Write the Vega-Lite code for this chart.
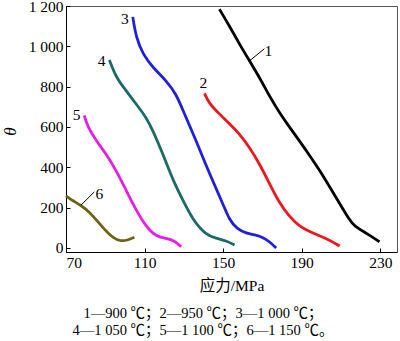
{
  "$schema": "https://vega.github.io/schema/vega-lite/v6.json",
  "width": 331,
  "height": 246,
  "autosize": {"type": "none"},
  "padding": {"left": 66, "top": 6, "right": 3, "bottom": 89},
  "background": "white",
  "config": {
    "view": {"stroke": "#555", "strokeWidth": 1},
    "font": "Liberation Serif, Noto Sans CJK SC",
    "axis": {"grid": false, "domainColor": "#000", "tickColor": "#000", "labelColor": "#000", "titleColor": "#000", "labelFont": "Liberation Serif", "labelFontSize": 15.5, "tickSize": -4, "labelPadding": 7, "titleFontWeight": "normal"}
  },
  "title": {
    "text": ["1—900 ℃；2—950 ℃；3—1 000 ℃；", "4—1 050 ℃；5—1 100 ℃；6—1 150 ℃。"],
    "orient": "bottom",
    "anchor": "middle",
    "font": "Liberation Serif, Noto Sans CJK SC",
    "fontSize": 14.5,
    "fontWeight": "normal",
    "color": "#000",
    "lineHeight": 17,
    "offset": 13,
    "dx": -28.5
  },
  "datasets": {
    "curves": [
      {"series": "1", "stress": 148.1, "theta": 1184},
      {"series": "1", "stress": 153.2, "theta": 1101},
      {"series": "1", "stress": 158.3, "theta": 1011},
      {"series": "1", "stress": 163.4, "theta": 928},
      {"series": "1", "stress": 168.5, "theta": 846},
      {"series": "1", "stress": 173.6, "theta": 752},
      {"series": "1", "stress": 178.7, "theta": 670},
      {"series": "1", "stress": 183.8, "theta": 599},
      {"series": "1", "stress": 188.9, "theta": 530},
      {"series": "1", "stress": 194.0, "theta": 459},
      {"series": "1", "stress": 199.1, "theta": 385},
      {"series": "1", "stress": 204.2, "theta": 303},
      {"series": "1", "stress": 209.3, "theta": 221},
      {"series": "1", "stress": 214.4, "theta": 138},
      {"series": "1", "stress": 216.6, "theta": 110},
      {"series": "1", "stress": 222.9, "theta": 73},
      {"series": "1", "stress": 229.6, "theta": 31},
      {"series": "2", "stress": 140.5, "theta": 767},
      {"series": "2", "stress": 143.0, "theta": 714},
      {"series": "2", "stress": 148.1, "theta": 665},
      {"series": "2", "stress": 153.2, "theta": 616},
      {"series": "2", "stress": 158.3, "theta": 566},
      {"series": "2", "stress": 163.4, "theta": 500},
      {"series": "2", "stress": 168.5, "theta": 418},
      {"series": "2", "stress": 173.6, "theta": 319},
      {"series": "2", "stress": 178.7, "theta": 221},
      {"series": "2", "stress": 183.8, "theta": 155},
      {"series": "2", "stress": 188.9, "theta": 105},
      {"series": "2", "stress": 195.7, "theta": 73},
      {"series": "2", "stress": 202.5, "theta": 48},
      {"series": "2", "stress": 209.3, "theta": 10},
      {"series": "3", "stress": 104.0, "theta": 1146},
      {"series": "3", "stress": 105.7, "theta": 1043},
      {"series": "3", "stress": 109.1, "theta": 961},
      {"series": "3", "stress": 114.2, "theta": 895},
      {"series": "3", "stress": 121.0, "theta": 830},
      {"series": "3", "stress": 126.1, "theta": 764},
      {"series": "3", "stress": 130.3, "theta": 665},
      {"series": "3", "stress": 136.2, "theta": 533},
      {"series": "3", "stress": 143.0, "theta": 369},
      {"series": "3", "stress": 149.8, "theta": 221},
      {"series": "3", "stress": 153.2, "theta": 138},
      {"series": "3", "stress": 157.0, "theta": 95},
      {"series": "3", "stress": 161.7, "theta": 73},
      {"series": "3", "stress": 166.8, "theta": 64},
      {"series": "3", "stress": 170.2, "theta": 53},
      {"series": "3", "stress": 173.6, "theta": 31},
      {"series": "3", "stress": 177.0, "theta": 0},
      {"series": "4", "stress": 92.1, "theta": 932},
      {"series": "4", "stress": 95.5, "theta": 846},
      {"series": "4", "stress": 100.6, "theta": 780},
      {"series": "4", "stress": 105.7, "theta": 714},
      {"series": "4", "stress": 110.8, "theta": 648},
      {"series": "4", "stress": 114.2, "theta": 583},
      {"series": "4", "stress": 119.3, "theta": 467},
      {"series": "4", "stress": 124.4, "theta": 336},
      {"series": "4", "stress": 129.5, "theta": 237},
      {"series": "4", "stress": 134.6, "theta": 138},
      {"series": "4", "stress": 141.3, "theta": 64},
      {"series": "4", "stress": 146.4, "theta": 48},
      {"series": "4", "stress": 151.5, "theta": 36},
      {"series": "4", "stress": 155.8, "theta": 15},
      {"series": "5", "stress": 79.3, "theta": 657},
      {"series": "5", "stress": 81.1, "theta": 599},
      {"series": "5", "stress": 85.3, "theta": 533},
      {"series": "5", "stress": 90.4, "theta": 467},
      {"series": "5", "stress": 95.5, "theta": 385},
      {"series": "5", "stress": 100.6, "theta": 286},
      {"series": "5", "stress": 105.7, "theta": 188},
      {"series": "5", "stress": 110.8, "theta": 105},
      {"series": "5", "stress": 115.9, "theta": 56},
      {"series": "5", "stress": 121.0, "theta": 48},
      {"series": "5", "stress": 125.2, "theta": 36},
      {"series": "5", "stress": 128.6, "theta": 6},
      {"series": "6", "stress": 70.0, "theta": 258},
      {"series": "6", "stress": 72.9, "theta": 237},
      {"series": "6", "stress": 77.6, "theta": 212},
      {"series": "6", "stress": 81.9, "theta": 179},
      {"series": "6", "stress": 87.0, "theta": 122},
      {"series": "6", "stress": 92.1, "theta": 64},
      {"series": "6", "stress": 97.2, "theta": 32},
      {"series": "6", "stress": 101.4, "theta": 38},
      {"series": "6", "stress": 104.8, "theta": 53}
    ],
    "labels": [
      {"label": "1", "stress": 173.0, "theta": 978},
      {"label": "2", "stress": 139.9, "theta": 816},
      {"label": "3", "stress": 100.0, "theta": 1134},
      {"label": "4", "stress": 88.1, "theta": 926},
      {"label": "5", "stress": 75.4, "theta": 658},
      {"label": "6", "stress": 87.0, "theta": 270}
    ],
    "leaders": [
      {"stress": 163.4, "theta": 928, "stress2": 171.0, "theta2": 988},
      {"stress": 77.6, "theta": 212, "stress2": 84.4, "theta2": 278}
    ]
  },
  "layer": [
    {
      "data": {"name": "curves"},
      "mark": {"type": "line", "strokeWidth": 2.8, "interpolate": "basis"},
      "encoding": {
        "x": {"field": "stress", "type": "quantitative", "scale": {"domain": [70, 238.5], "nice": false, "zero": false},
              "axis": {"values": [70, 110, 150, 190, 230], "title": "应力/MPa", "titleFont": "Liberation Serif, Noto Sans CJK SC", "titleFontSize": 15.5, "titleY": 33, "titleBaseline": "middle"}},
        "y": {"field": "theta", "type": "quantitative", "scale": {"domain": [-20, 1200], "nice": false, "zero": false},
              "axis": {"values": [0, 200, 400, 600, 800, 1000, 1200], "labelExpr": "replace(format(datum.value, ','), ',', ' ')", "title": "θ", "titleFont": "Liberation Serif", "titleFontStyle": "italic", "titleFontSize": 17, "titleX": -56, "titleY": 125, "titleAngle": -90, "titleAlign": "center", "titleBaseline": "middle"}},
        "color": {"field": "series", "type": "nominal", "legend": null,
                  "scale": {"domain": ["1", "2", "3", "4", "5", "6"], "range": ["#000000", "#e8191e", "#1f1fd8", "#1b6a66", "#e51ee5", "#6a6414"]}}
      }
    },
    {
      "data": {"name": "leaders"},
      "mark": {"type": "rule", "color": "#000", "strokeWidth": 1},
      "encoding": {
        "x": {"field": "stress", "type": "quantitative"},
        "y": {"field": "theta", "type": "quantitative"},
        "x2": {"field": "stress2"},
        "y2": {"field": "theta2"}
      }
    },
    {
      "data": {"name": "labels"},
      "mark": {"type": "text", "font": "Liberation Serif", "fontSize": 15.5, "color": "#000", "align": "center", "baseline": "middle"},
      "encoding": {
        "x": {"field": "stress", "type": "quantitative"},
        "y": {"field": "theta", "type": "quantitative"},
        "text": {"field": "label"}
      }
    }
  ]
}
